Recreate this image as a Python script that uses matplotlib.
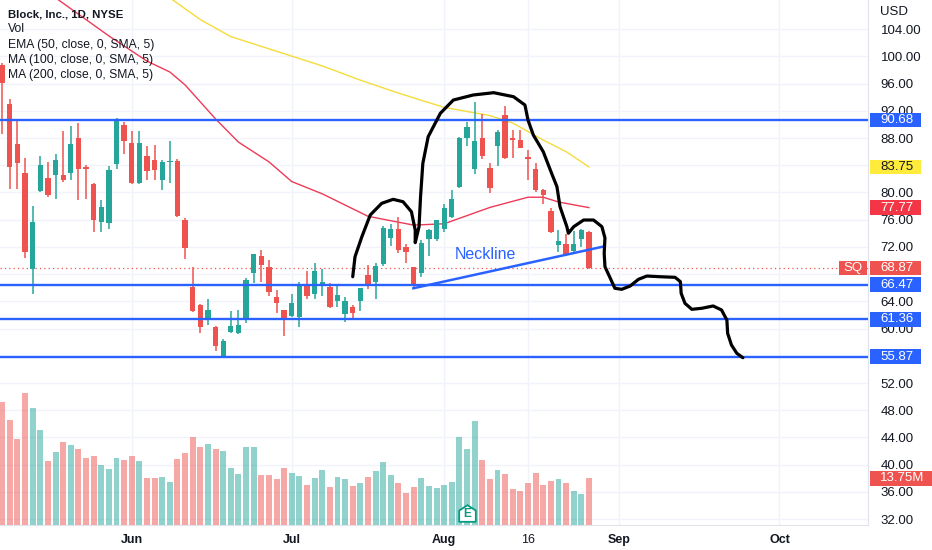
import numpy as np
import matplotlib.pyplot as plt
from matplotlib.patches import Rectangle
from matplotlib.path import Path
from matplotlib.transforms import blended_transform_factory

plt.rcParams['font.family'] = ['Liberation Sans', 'DejaVu Sans']

# candles diarios SQ (9 mai -> 26 ago 2022)
abertura = [98.7, 93.0, 87.1, 82.8, 68.7, 80.2, 82.1, 82.5, 82.6, 82.8,
            88.0, 83.8, 81.3, 75.7, 75.5, 84.2, 89.9, 87.2, 81.4, 85.3,
            84.8, 81.8, 84.5, 84.6, 75.9, 66.1, 63.4, 61.2, 60.3, 56.0,
            59.5, 59.3, 61.2, 68.1, 70.7, 69.0, 64.7, 62.7, 61.8, 61.7,
            66.4, 65.1, 66.6, 66.1, 64.0, 62.2, 63.2, 64.1, 67.9, 66.9,
            69.5, 73.3, 74.6, 72.0, 69.0, 68.2, 73.1, 73.1, 74.6, 76.4,
            80.8, 88.0, 83.5, 88.0, 83.6, 86.8, 91.4, 88.0, 87.7, 85.2,
            83.5, 80.4, 77.3, 72.3, 72.4, 71.4, 73.1, 74.2]
maxima = [99.0, 93.8, 90.7, 85.0, 78.0, 85.3, 84.5, 85.6, 89.0, 89.8,
          90.2, 84.0, 81.4, 78.9, 83.9, 91.0, 90.4, 89.1, 89.1, 86.8,
          87.0, 84.8, 87.5, 84.9, 76.2, 69.0, 63.6, 64.3, 60.4, 58.4,
          62.6, 62.7, 67.5, 71.0, 71.6, 70.1, 65.6, 62.8, 65.1, 66.8,
          68.4, 69.6, 68.7, 66.7, 66.3, 64.7, 63.5, 66.0, 69.3, 69.6,
          75.1, 75.4, 76.4, 72.4, 69.1, 73.0, 74.6, 76.0, 78.3, 80.4,
          88.2, 90.4, 93.3, 91.6, 84.4, 89.2, 92.7, 89.2, 89.2, 86.2,
          84.4, 80.5, 77.7, 74.5, 73.9, 74.4, 74.6, 74.3]
minima = [88.6, 80.5, 80.5, 70.3, 65.1, 80.0, 79.3, 79.0, 81.6, 81.8,
          78.9, 79.0, 74.2, 74.2, 74.7, 83.5, 85.7, 81.2, 81.3, 81.8,
          81.8, 80.3, 81.4, 76.4, 70.2, 62.5, 59.4, 60.5, 56.7, 55.8,
          59.3, 59.2, 60.8, 66.7, 66.9, 64.8, 62.3, 58.9, 61.7, 60.3,
          64.3, 64.4, 64.8, 63.0, 63.1, 60.9, 61.2, 62.6, 65.8, 64.3,
          69.2, 72.1, 71.1, 69.6, 65.9, 67.6, 70.6, 72.9, 74.2, 76.3,
          80.6, 86.9, 82.7, 84.9, 79.9, 83.9, 84.9, 85.0, 86.5, 81.9,
          80.0, 78.3, 74.0, 71.3, 70.7, 71.3, 72.0, 68.8]
fechamento = [96.1, 83.8, 84.3, 71.2, 75.7, 84.0, 79.6, 84.7, 81.9, 87.1,
              83.4, 83.4, 75.9, 77.8, 83.3, 90.7, 87.5, 81.4, 87.3, 83.1,
              83.3, 84.5, 84.6, 76.5, 71.8, 62.6, 60.2, 62.8, 57.4, 58.2,
              60.4, 60.5, 67.1, 70.9, 69.3, 65.4, 63.7, 61.4, 63.8, 66.6,
              64.8, 68.5, 66.8, 63.1, 64.9, 64.1, 62.3, 65.9, 66.3, 69.2,
              74.8, 74.7, 71.6, 71.3, 66.2, 72.6, 74.5, 75.9, 77.7, 79.0,
              88.0, 89.6, 87.6, 85.4, 80.7, 88.9, 85.0, 87.7, 86.6, 84.9,
              80.3, 79.6, 74.2, 72.9, 70.8, 72.5, 74.5, 68.87]
# volume em milhoes
volume = [36.3, 31.0, 25.5, 38.9, 34.6, 28.1, 18.8, 21.5, 24.6, 23.7,
          22.5, 19.6, 20.4, 17.6, 16.5, 19.7, 19.2, 20.4, 18.9, 13.8,
          13.8, 14.2, 12.7, 19.5, 21.2, 26.1, 22.9, 24.0, 22.5, 21.7,
          16.9, 15.1, 22.9, 23.1, 14.6, 14.8, 13.4, 16.7, 15.2, 14.4,
          11.8, 13.8, 16.2, 11.1, 14.2, 13.5, 11.4, 12.2, 14.1, 16.0,
          18.5, 14.6, 12.2, 9.4, 11.0, 13.8, 11.3, 10.7, 11.6, 12.7,
          25.9, 22.5, 30.6, 19.0, 13.4, 16.3, 14.9, 10.4, 9.9, 12.2,
          15.3, 11.8, 13.0, 13.4, 12.2, 9.8, 9.0, 13.75]

# medias moveis (indice do candle, valor)
ema50_idx = [5, 7, 14, 19, 22, 24, 28, 31, 35, 38, 42, 48, 54, 58, 64, 69, 71, 73, 77]
ema50_val = [110.2, 108.6, 103.0, 99.3, 97.7, 95.8, 90.8, 87.4, 84.5, 81.6,
             79.8, 76.5, 75.2, 75.4, 77.8, 79.3, 79.3, 78.6, 77.77]
ma100_idx = [18, 22, 26, 30, 42, 47, 52, 58, 64, 67, 71, 74, 77]
ma100_val = [111.3, 108.6, 105.4, 102.9, 98.6, 96.5, 94.6, 92.5, 91.3, 90.2,
             87.7, 86.0, 83.75]

niveis = [90.68, 66.47, 61.36, 55.87]
ultimo_preco = 68.87
ultimo_volume = 13.75

pescoco_x = [53.95, 78.8]
pescoco_y = [65.92, 72.03]

# desenho a mao (cabeca e ombros + projecao)
desenho_x = [46.0, 46.3, 47.2, 48.3, 49.8, 51.3, 52.6, 53.7, 54.2, 54.2,
             54.7, 54.9, 55.2, 55.9, 57.5, 59.2, 61.8, 64.5, 67.1, 68.6,
             69.0, 69.7, 71.0, 72.1, 72.8, 73.2, 74.1, 74.3, 75.0, 76.3,
             77.6, 78.7, 79.1, 79.0, 79.1, 79.8, 80.4, 81.3, 82.4, 83.5,
             84.6, 86.3, 88.3, 89.0, 89.1, 89.6, 90.5, 91.8, 93.3, 94.4,
             95.1, 95.2, 95.7, 96.4, 97.2]
desenho_y = [67.62, 70.56, 73.50, 76.69, 78.40, 78.99, 78.64, 77.17, 74.48, 72.62,
             74.97, 79.37, 84.28, 88.19, 91.63, 93.58, 94.32, 94.66, 94.07, 92.85,
             90.64, 88.44, 85.99, 82.81, 80.84, 77.91, 74.97, 74.00, 74.97, 75.95,
             75.95, 74.97, 73.31, 71.06, 69.09, 67.39, 65.92, 65.77, 66.25, 67.24,
             67.72, 67.62, 67.53, 66.89, 65.18, 63.71, 62.83, 62.98, 63.32, 62.73,
             61.26, 59.30, 57.59, 56.37, 55.72]

datas_idx = [17, 38, 58, 69, 81, 102]
datas_txt = ['Jun', 'Jul', 'Aug', '16', 'Sep', 'Oct']
datas_peso = ['bold', 'bold', 'bold', 'normal', 'bold', 'bold']

precos_grade = np.arange(32, 105, 4)
# rotulos escondidos pelas etiquetas coloridas no original
precos_ocultos = [56, 68, 84]

alta = '#26a69a'
baixa = '#ef5350'
azul = '#2962ff'
texto = '#131722'

o = np.array(abertura)
c = np.array(fechamento)
x = np.arange(len(c))
cores = np.where(c >= o, alta, baixa)

fig = plt.figure(figsize=(9.32, 5.5), dpi=100)
ax = fig.add_axes([0, 1 - 524.5 / 550, 868 / 932, 524.5 / 550])
ax.set_xlim(-0.29, 113.62)
ax.set_ylim(31.21, 108.28)

# volume (eixo gemeo, desenhado por cima mas sem fundo)
axv = ax.twinx()
axv.set_ylim(0, 524.5 / 3.37)
axv.bar(x, volume, width=0.78, color=cores, alpha=0.5, zorder=1)
axv.set_yticks([])
for s in axv.spines.values():
    s.set_visible(False)

# grade e eixos
ax.set_yticks(precos_grade)
ax.set_yticklabels(['' if v in precos_ocultos else f'{v:.2f}' for v in precos_grade])
ax.set_xticks(datas_idx)
ax.set_xticklabels(datas_txt)
for lbl, peso in zip(ax.get_xticklabels(), datas_peso):
    lbl.set_fontweight(peso)
ax.grid(color='#f0f3fa', linewidth=1, zorder=0)
ax.set_axisbelow(True)
ax.yaxis.tick_right()
ax.tick_params(axis='y', which='both', left=False, right=False, labelleft=False,
               labelright=True, length=0, pad=9, labelsize=9.5, labelcolor=texto)
ax.tick_params(axis='x', length=0, pad=7, labelsize=9, labelcolor=texto)
for s in ['top', 'left']:
    ax.spines[s].set_visible(False)
ax.spines['right'].set_color('#e0e3eb')
ax.spines['bottom'].set_color('#e0e3eb')

# medias
ax.plot(ma100_idx, ma100_val, color='#f5dc3a', lw=1, zorder=2)
ax.plot(ema50_idx, ema50_val, color='#ec3b57', lw=1, zorder=2)

# linhas horizontais
ax.axhline(ultimo_preco, color=baixa, lw=0.9, linestyle=(0, (1, 2.5)), zorder=2)
for nivel in niveis:
    ax.axhline(nivel, color=azul, lw=1.7, zorder=5)

# candles
corpo = np.maximum(np.abs(c - o), 0.15)
ax.vlines(x, minima, maxima, colors=cores, linewidth=1.1, zorder=3)
ax.bar(x, corpo, bottom=np.minimum(o, c), width=0.7, color=cores, zorder=4)

# neckline
ax.plot(pescoco_x, pescoco_y, color=azul, lw=1.8, zorder=5)
ax.text(63.4, 70.95, 'Neckline', color=azul, fontsize=11.5, ha='center', va='center', zorder=6)

# desenho
ax.plot(desenho_x, desenho_y, color='black', lw=2.3, solid_capstyle='round',
        solid_joinstyle='round', zorder=7)

# etiquetas do eixo de preco
trans = blended_transform_factory(ax.transAxes, ax.transData)
h = 14.5 / 6.806


def etiqueta(y, txt, fundo, cor='white'):
    ax.add_patch(Rectangle((1.0023, y - h / 2), 0.0588, h, transform=trans,
                           clip_on=False, facecolor=fundo, edgecolor='none', zorder=10))
    ax.text(1.0138, y, txt, transform=trans, color=cor, fontsize=9.5,
            ha='left', va='center', clip_on=False, zorder=11)


for nivel in niveis:
    etiqueta(nivel, f'{nivel:.2f}', azul)
etiqueta(ma100_val[-1], f'{ma100_val[-1]:.2f}', '#ffeb3b', texto)
etiqueta(ema50_val[-1], f'{ema50_val[-1]:.2f}', '#f23645')
etiqueta(ultimo_preco, f'{ultimo_preco:.2f}', baixa)
ax.add_patch(Rectangle((0.9666, ultimo_preco - h / 2), 0.0322, h, transform=trans,
                       clip_on=False, facecolor=baixa, edgecolor='none', zorder=10))
ax.text(0.9827, ultimo_preco, 'SQ', transform=trans, color='white', fontsize=9.5,
        ha='center', va='center', zorder=11)

# etiqueta do volume
transv = blended_transform_factory(axv.transAxes, axv.transData)
hv = 15 / 3.37
axv.add_patch(Rectangle((1.0023, ultimo_volume - hv / 2), 0.0714, hv, transform=transv,
                        clip_on=False, facecolor=baixa, edgecolor='none', zorder=10))
axv.text(1.0138, ultimo_volume, f'{ultimo_volume:.2f}M', transform=transv, color='white',
         fontsize=9.5, ha='left', va='center', clip_on=False, zorder=11)

# marcador de resultado (E)
casa = Path([(-1, -1), (1, -1), (1, 0.35), (0, 1), (-1, 0.35), (-1, -1)],
            [Path.MOVETO, Path.LINETO, Path.LINETO, Path.LINETO, Path.LINETO, Path.CLOSEPOLY])
axv.plot(61, 3.4, marker=casa, markersize=12, markerfacecolor='white',
         markeredgecolor='#089981', markeredgewidth=1.3, zorder=5)
axv.text(61, 3.0, 'E', color='#089981', fontsize=8.5, fontweight='bold',
         ha='center', va='center', zorder=6)

# legenda
fig.text(8 / 932, 1 - 14.3 / 550, 'Block, Inc., 1D, NYSE', fontsize=8.2,
         fontweight='bold', color=texto, va='center')
legenda = ['Vol', 'EMA (50, close, 0, SMA, 5)', 'MA (100, close, 0, SMA, 5)',
           'MA (200, close, 0, SMA, 5)']
for i, t in enumerate(legenda):
    fig.text(8 / 932, 1 - (29.5 + 15.2 * i) / 550, t, fontsize=8.7, color=texto, va='center')
fig.text(880 / 932, 1 - 12 / 550, 'USD', fontsize=9.5, color=texto, va='center')

fig.savefig('out.png', dpi=100)
